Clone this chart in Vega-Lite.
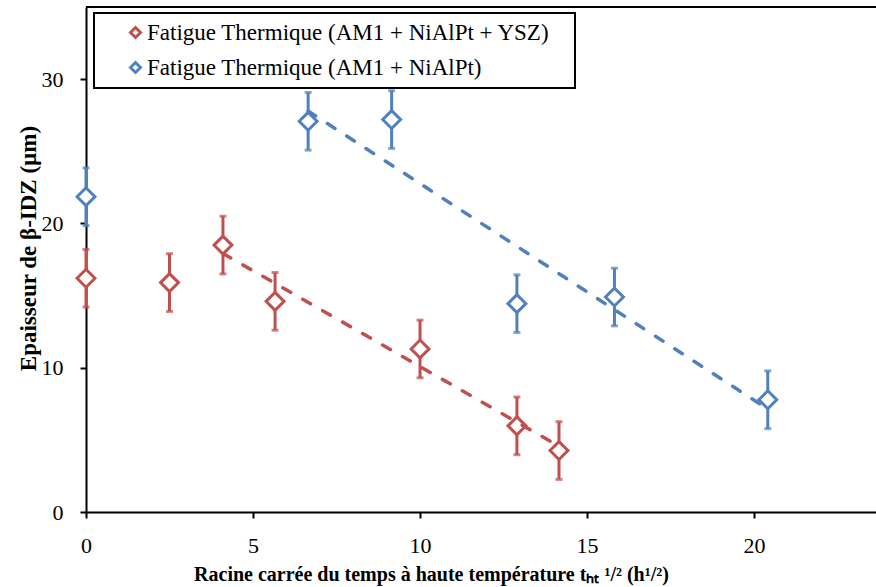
{
  "$schema": "https://vega.github.io/schema/vega-lite/v6.json",
  "width": 790,
  "height": 505,
  "autosize": {"type": "none"},
  "padding": {"left": 86, "top": 7, "right": 0, "bottom": 75},
  "background": "white",
  "config": {
    "font": "Liberation Serif",
    "view": {"stroke": null},
    "axis": {
      "domainColor": "black", "domainWidth": 2,
      "tickColor": "black", "tickWidth": 2, "tickSize": 6,
      "grid": false,
      "labelFont": "Liberation Serif", "labelFontSize": 22, "labelColor": "black", "labelFlush": false,
      "titleFont": "Liberation Serif", "titleFontSize": 20, "titleFontWeight": "bold", "titleColor": "black"
    },
    "legend": {
      "padding": 8, "strokeColor": "black", "strokeWidth": 2, "fillColor": "white",
      "symbolType": "diamond", "symbolSize": 100, "symbolStrokeWidth": 3, "symbolFillColor": "white", "symbolOpacity": 1,
      "labelFont": "Liberation Serif", "labelFontSize": 23, "labelColor": "black", "labelLimit": 800,
      "rowPadding": 11, "symbolOffset": 22, "labelOffset": 0
    }
  },
  "data": {
    "values": [
      {"series": "Fatigue Thermique (AM1 + NiAlPt + YSZ)", "x": 0, "y": 16.2, "err": 2},
      {"series": "Fatigue Thermique (AM1 + NiAlPt + YSZ)", "x": 2.5, "y": 15.9, "err": 2},
      {"series": "Fatigue Thermique (AM1 + NiAlPt + YSZ)", "x": 4.1, "y": 18.5, "err": 2},
      {"series": "Fatigue Thermique (AM1 + NiAlPt + YSZ)", "x": 5.66, "y": 14.6, "err": 2},
      {"series": "Fatigue Thermique (AM1 + NiAlPt + YSZ)", "x": 10.0, "y": 11.3, "err": 2},
      {"series": "Fatigue Thermique (AM1 + NiAlPt + YSZ)", "x": 12.9, "y": 5.97, "err": 2},
      {"series": "Fatigue Thermique (AM1 + NiAlPt + YSZ)", "x": 14.16, "y": 4.26, "err": 2},
      {"series": "Fatigue Thermique (AM1 + NiAlPt)", "x": 0, "y": 21.85, "err": 2},
      {"series": "Fatigue Thermique (AM1 + NiAlPt)", "x": 6.65, "y": 27.08, "err": 2},
      {"series": "Fatigue Thermique (AM1 + NiAlPt)", "x": 9.15, "y": 27.2, "err": 2},
      {"series": "Fatigue Thermique (AM1 + NiAlPt)", "x": 12.9, "y": 14.44, "err": 2},
      {"series": "Fatigue Thermique (AM1 + NiAlPt)", "x": 15.82, "y": 14.9, "err": 2},
      {"series": "Fatigue Thermique (AM1 + NiAlPt)", "x": 20.41, "y": 7.78, "err": 2}
    ]
  },
  "resolve": {"scale": {"color": "independent"}, "legend": {"color": "independent"}},
  "layer": [
    {
      "mark": {"type": "errorbar", "ticks": {"size": 7, "thickness": 3}, "rule": {"strokeWidth": 3}},
      "encoding": {
        "x": {"field": "x", "type": "quantitative", "scale": {"domain": [0, 23.65], "nice": false, "zero": false},
              "axis": {"values": [0, 5, 10, 15, 20], "labelBaseline": "alphabetic", "labelPadding": 34,
                       "title": "Racine carrée du temps à haute température tₕₜ ¹/² (h¹/²)",
                       "titleX": 345, "titleY": 68, "titleBaseline": "alphabetic", "titleAlign": "center"}},
        "y": {"field": "y", "type": "quantitative", "scale": {"domain": [0, 35], "nice": false},
              "axis": {"values": [0, 10, 20, 30], "labelPadding": 17,
                       "title": "Epaisseur de β-IDZ (µm)", "titleAngle": -90, "titleX": -51, "titleY": 241,
                       "titleFontSize": 23,
                       "titleBaseline": "alphabetic", "titleAlign": "center"}},
        "yError": {"field": "err"},
        "color": {"field": "series", "type": "nominal", "legend": null,
                  "scale": {"domain": ["Fatigue Thermique (AM1 + NiAlPt + YSZ)", "Fatigue Thermique (AM1 + NiAlPt)"], "range": ["#C0504D", "#4F81BD"]}}
      }
    },
    {
      "mark": {"type": "point", "shape": "diamond", "filled": false, "fill": "white", "fillOpacity": 1, "strokeWidth": 3, "size": 320, "opacity": 1},
      "encoding": {
        "x": {"field": "x", "type": "quantitative"},
        "y": {"field": "y", "type": "quantitative"},
        "color": {"field": "series", "type": "nominal",
                  "scale": {"domain": ["Fatigue Thermique (AM1 + NiAlPt + YSZ)", "Fatigue Thermique (AM1 + NiAlPt)"], "range": ["#C0504D", "#4F81BD"]},
                  "legend": {"orient": "none", "legendX": 8, "legendY": 6, "title": null,
                             "labelExpr": "datum.label + '\u2800'",
                             "encode": {
                               "symbols": {"update": {"fill": {"value": "white"}, "fillOpacity": {"value": 1}, "strokeWidth": {"value": 3}, "opacity": {"value": 1}}},
                               "labels": {"update": {"font": {"value": "Liberation Serif"}, "fontSize": {"value": 23}}}
                             }}}
      }
    },
    {
      "transform": [
        {"filter": "datum.x >= 4"},
        {"regression": "y", "on": "x", "groupby": ["series"]}
      ],
      "mark": {"type": "line", "strokeDash": [9, 14], "strokeWidth": 3.5, "strokeCap": "round"},
      "encoding": {
        "x": {"field": "x", "type": "quantitative"},
        "y": {"field": "y", "type": "quantitative"},
        "color": {"field": "series", "type": "nominal", "legend": null,
                  "scale": {"domain": ["Fatigue Thermique (AM1 + NiAlPt + YSZ)", "Fatigue Thermique (AM1 + NiAlPt)"], "range": ["#C0504D", "#4F81BD"]}}
      }
    },
    {
      "mark": {"type": "rule", "color": "black", "strokeWidth": 2},
      "encoding": {"y": {"datum": 35}}
    }
  ]
}
